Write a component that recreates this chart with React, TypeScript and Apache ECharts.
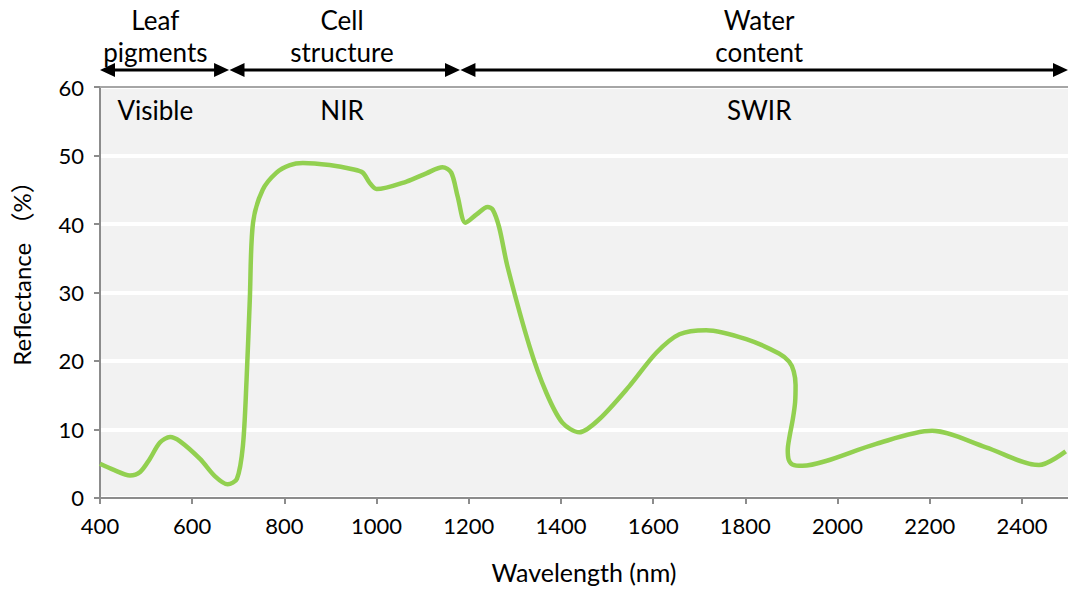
import React, { useEffect, useRef } from "react";
import * as echarts from "echarts";

// Leaf reflectance spectrum: wavelength (nm) vs reflectance (%)
const wavelength = [
  400, 430, 465, 487, 508, 530, 552, 573, 617, 649, 677, 697, 710, 718, 725,
  732, 753, 783, 812, 840, 898, 948, 970, 985, 1000, 1065, 1108, 1143, 1162,
  1176, 1193, 1217, 1241, 1252, 1266, 1284, 1332, 1368, 1403, 1440, 1483, 1548,
  1607, 1657, 1715, 1802, 1873, 1895, 1905, 1909, 1908, 1903, 1896, 1892, 1894,
  1902, 1924, 1975, 2084, 2205, 2322, 2437, 2495,
];
const reflectance = [
  5.0, 4.1, 3.3, 3.8, 5.7, 8.1, 8.9, 8.3, 5.7, 3.2, 2.0, 2.8, 7.6, 17.3, 29.0,
  40.2, 45.0, 47.5, 48.6, 48.9, 48.6, 48.0, 47.5, 46.0, 45.1, 46.2, 47.4, 48.3,
  47.5, 44.0, 40.2, 41.4, 42.5, 42.1, 39.5, 33.8, 22.1, 15.4, 11.0, 9.6, 11.5, 16.3,
  21.2, 23.9, 24.5, 23.2, 21.1, 19.9, 18.5, 16.5, 14.0, 11.5, 9.0, 7.0, 5.6,
  4.9, 4.7, 5.4, 7.9, 9.8, 7.4, 4.8, 6.8,
];

// Spectral regions (band names inside the plot) and their centres in nm
const bandNames = ["Visible", "NIR", "SWIR"];
const bandCentres = [520, 925, 1830];

// Dominant factor in each region, with the wavelength span of its arrow
const factorNames = ["Leaf\npigments", "Cell\nstructure", "Water\ncontent"];
const factorStart = [400, 681, 1182];
const factorEnd = [680, 1181, 2500];

const xTicks = { min: 400, max: 2500, interval: 200 };
const yTicks = { min: 0, max: 60, interval: 10 };

const FONT = "Lato, 'Noto Sans CJK SC', sans-serif";
const AXIS_GREY = "#8c8c8c";

export default function App() {
  const ref = useRef<HTMLDivElement>(null);

  useEffect(() => {
    if (!ref.current) return;
    const chart = echarts.init(ref.current, null, { renderer: "svg" });

    const data = wavelength.map((w, i) => [w, reflectance[i]]);

    chart.setOption({
      animation: false,
      grid: {
        left: 100,
        top: 87,
        right: 0,
        bottom: 90,
        show: true,
        backgroundColor: "#f2f2f2",
        borderWidth: 0,
      },
      xAxis: [
        {
          type: "value",
          min: xTicks.min,
          max: xTicks.max,
          interval: xTicks.interval,
          name: "Wavelength (nm)",
          nameLocation: "middle",
          nameGap: 61,
          nameTextStyle: { fontFamily: FONT, fontSize: 25, color: "#000" },
          axisLine: { show: true, lineStyle: { color: AXIS_GREY, width: 2 } },
          axisTick: { show: true, length: 6, lineStyle: { color: AXIS_GREY, width: 2 } },
          axisLabel: {
            fontFamily: FONT,
            fontSize: 22,
            color: "#000",
            margin: 16,
            showMaxLabel: false,
            formatter: (v: number) => String(v),
          },
          splitLine: { show: false },
        },
        {
          type: "value",
          position: "top",
          min: xTicks.min,
          max: xTicks.max,
          axisLine: { show: true, lineStyle: { color: "#a6a6a6", width: 2 } },
          axisTick: { show: false },
          axisLabel: { show: false },
          splitLine: { show: false },
        },
      ],
      yAxis: {
        type: "value",
        min: yTicks.min,
        max: yTicks.max,
        interval: yTicks.interval,
        name: "Reflectance （%）",
        nameLocation: "middle",
        nameGap: 67,
        nameTextStyle: {
          fontFamily: FONT,
          fontSize: 24,
          color: "#000",
          padding: [0, 0, 0, 50],
        },
        axisLine: { show: true, lineStyle: { color: AXIS_GREY, width: 2 } },
        axisTick: { show: true, length: 6, lineStyle: { color: AXIS_GREY, width: 2 } },
        axisLabel: { fontFamily: FONT, fontSize: 22, color: "#000", margin: 16 },
        splitLine: { show: true, lineStyle: { color: "#ffffff", width: 4 } },
      },
      series: [
        {
          type: "line",
          data,
          smooth: 0.3,
          showSymbol: false,
          lineStyle: { color: "#92d050", width: 4.5 },
          itemStyle: { color: "#92d050" },
          clip: false,
        },
      ],
    });

    const px = (v: number) => chart.convertToPixel({ xAxisIndex: 0 }, v) as number;
    const py = (v: number) => chart.convertToPixel({ yAxisIndex: 0 }, v) as number;

    const plotTop = py(yTicks.max);
    const arrowY = plotTop - 17;
    const head = 15;
    const half = 7;

    const graphics: any[] = [];
    factorNames.forEach((name, i) => {
      const x1 = px(factorStart[i]);
      const x2 = px(factorEnd[i]);
      graphics.push({
        type: "line",
        shape: { x1: x1 + head - 2, y1: arrowY, x2: x2 - head + 2, y2: arrowY },
        style: { stroke: "#000", lineWidth: 3 },
      });
      graphics.push({
        type: "polygon",
        shape: { points: [[x1, arrowY], [x1 + head, arrowY - half], [x1 + head, arrowY + half]] },
        style: { fill: "#000" },
      });
      graphics.push({
        type: "polygon",
        shape: { points: [[x2, arrowY], [x2 - head, arrowY - half], [x2 - head, arrowY + half]] },
        style: { fill: "#000" },
      });
      graphics.push({
        type: "text",
        x: px(bandCentres[i]),
        y: arrowY - 34,
        style: {
          text: name,
          fontFamily: FONT,
          fontSize: 26,
          lineHeight: 32,
          fill: "#000",
          textAlign: "center",
          textVerticalAlign: "middle",
        },
      });
    });

    bandNames.forEach((name, i) => {
      graphics.push({
        type: "text",
        x: px(bandCentres[i]),
        y: plotTop + 23,
        style: {
          text: name,
          fontFamily: FONT,
          fontSize: 26,
          fill: "#000",
          textAlign: "center",
          textVerticalAlign: "middle",
        },
      });
    });

    chart.setOption({ graphic: graphics });

    return () => chart.dispose();
  }, []);

  return (
    <div
      ref={ref}
      style={{ position: "absolute", left: 0, top: 0, width: 1068, height: 589 }}
    />
  );
}
